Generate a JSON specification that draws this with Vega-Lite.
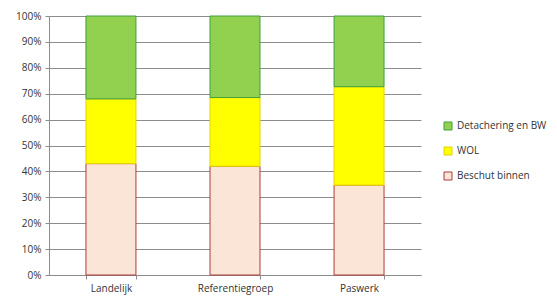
{
  "$schema": "https://vega.github.io/schema/vega-lite/v6.json",
  "autosize": {"type": "none"},
  "width": 372,
  "height": 259,
  "padding": {"left": 49, "top": 16, "right": 136, "bottom": 23},
  "background": "white",
  "config": {
    "view": {"stroke": null},
    "font": "Open Sans",
    "axis": {"labelFont": "Open Sans", "labelFontSize": 10, "labelColor": "#333333", "domainColor": "#8c8c8c", "tickColor": "#8c8c8c", "gridColor": "#8c8c8c", "gridOpacity": 1},
    "legend": {"labelFont": "Open Sans", "labelFontSize": 10, "labelColor": "#333333"}
  },
  "data": {
    "values": [
      {"groep": "Landelijk", "soort": "Beschut binnen", "waarde": 0.43, "volg": 1},
      {"groep": "Landelijk", "soort": "WOL", "waarde": 0.25, "volg": 2},
      {"groep": "Landelijk", "soort": "Detachering en BW", "waarde": 0.32, "volg": 3},
      {"groep": "Referentiegroep", "soort": "Beschut binnen", "waarde": 0.42, "volg": 1},
      {"groep": "Referentiegroep", "soort": "WOL", "waarde": 0.265, "volg": 2},
      {"groep": "Referentiegroep", "soort": "Detachering en BW", "waarde": 0.315, "volg": 3},
      {"groep": "Paswerk", "soort": "Beschut binnen", "waarde": 0.347, "volg": 1},
      {"groep": "Paswerk", "soort": "WOL", "waarde": 0.38, "volg": 2},
      {"groep": "Paswerk", "soort": "Detachering en BW", "waarde": 0.273, "volg": 3}
    ]
  },
  "mark": {"type": "bar", "strokeWidth": 1},
  "encoding": {
    "x": {
      "field": "groep", "type": "nominal", "sort": ["Landelijk", "Referentiegroep", "Paswerk"],
      "scale": {"paddingInner": 0.597, "paddingOuter": 0.298},
      "axis": {"title": null, "labelAngle": 0, "tickBand": "extent", "tickSize": 4, "labelPadding": 4, "domainWidth": 1}
    },
    "y": {
      "field": "waarde", "type": "quantitative", "stack": "zero",
      "scale": {"domain": [0, 1], "nice": false},
      "axis": {"title": null, "format": ".0%", "values": [0, 0.1, 0.2, 0.3, 0.4, 0.5, 0.6, 0.7, 0.8, 0.9, 1], "tickSize": 4, "labelPadding": 4}
    },
    "order": {"field": "volg", "type": "quantitative"},
    "fill": {
      "field": "soort", "type": "nominal",
      "scale": {"domain": ["Detachering en BW", "WOL", "Beschut binnen"], "range": ["#92d050", "#ffff00", "#fbe5d6"]},
      "legend": {"title": null, "orient": "none", "legendX": 394, "legendY": 105, "symbolType": "square", "symbolSize": 64, "rowPadding": 13, "symbolStrokeWidth": 1}
    },
    "stroke": {
      "field": "soort", "type": "nominal",
      "scale": {"domain": ["Detachering en BW", "WOL", "Beschut binnen"], "range": ["#3fa03f", "#e6d200", "#b03a3a"]}
    }
  }
}
